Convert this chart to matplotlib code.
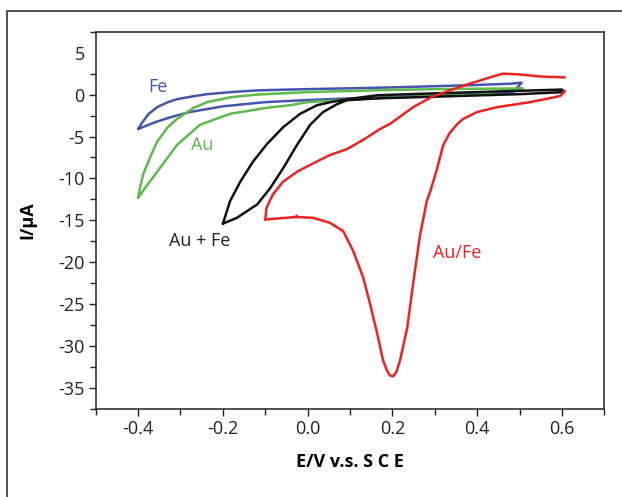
import matplotlib
matplotlib.use('Agg')
import matplotlib.pyplot as plt
from matplotlib.patches import Rectangle
from matplotlib.ticker import MultipleLocator

# Fe (blue) loop, -0.4 .. 0.5 V
fe_e = [-0.400, -0.390, -0.375, -0.355, -0.330, -0.308, -0.270, -0.237, -0.180, -0.120, -0.020,
        0.100, 0.200, 0.300, 0.400, 0.480, 0.505, 0.485, 0.400, 0.300, 0.200, 0.100, 0.000,
        -0.100, -0.200, -0.280, -0.330, -0.360, -0.385, -0.400]
fe_i = [-4.1, -3.3, -2.3, -1.5, -0.9, -0.55, -0.2, 0.05, 0.3, 0.5, 0.63,
        0.75, 0.86, 1.0, 1.15, 1.3, 1.42, 0.3, 0.05, -0.1, -0.3, -0.45, -0.65,
        -0.9, -1.4, -2.1, -2.8, -3.3, -3.8, -4.1]

# Au (green) loop
au_e = [-0.400, -0.395, -0.388, -0.370, -0.355, -0.330, -0.308, -0.270, -0.237, -0.180, -0.120,
        0.000, 0.194, 0.300, 0.400, 0.490, 0.508, 0.400, 0.300, 0.200, 0.100, 0.000, -0.042,
        -0.100, -0.183, -0.254, -0.308, -0.355, -0.380, -0.400]
au_i = [-12.3, -11.0, -9.5, -7.3, -5.6, -3.9, -2.9, -1.6, -0.9, -0.3, 0.0,
        0.3, 0.55, 0.65, 0.7, 0.72, 0.75, 0.0, -0.15, -0.35, -0.6, -0.9, -1.27,
        -1.6, -2.3, -3.6, -6.0, -9.2, -10.9, -12.3]

# Au + Fe (black) loop
aufe_e = [-0.200, -0.183, -0.159, -0.129, -0.096, -0.058, -0.018, 0.022, 0.053, 0.093, 0.164,
          0.300, 0.400, 0.500, 0.600, 0.605, 0.500, 0.400, 0.300, 0.164, 0.093, 0.069, 0.036,
          0.006, -0.025, -0.058, -0.089, -0.119, -0.167, -0.200]
aufe_i = [-15.4, -12.7, -10.4, -8.0, -5.9, -3.9, -2.3, -1.27, -0.91, -0.56, -0.08,
          0.15, 0.3, 0.45, 0.6, 0.3, 0.05, -0.1, -0.25, -0.45, -0.67, -1.15, -2.1,
          -3.6, -6.0, -8.8, -11.2, -13.1, -14.7, -15.4]

# Au/Fe (red): forward sweep and reverse sweep
red_fwd_e = [-0.100, -0.097, -0.082, -0.058, -0.025, 0.013, 0.053, 0.093, 0.131, 0.171, 0.194,
             0.249, 0.296, 0.329, 0.376, 0.430, 0.461, 0.501, 0.548, 0.607]
red_fwd_i = [-14.9, -13.5, -11.9, -10.4, -9.2, -8.2, -7.2, -6.5, -5.4, -4.1, -3.5,
             -1.5, -0.2, 0.39, 1.2, 2.05, 2.5, 2.4, 2.16, 2.05]
red_rev_e = [0.607, 0.596, 0.525, 0.447, 0.399, 0.367, 0.353, 0.335, 0.320, 0.305, 0.289,
             0.281, 0.273, 0.265, 0.249, 0.235, 0.218, 0.210, 0.202, 0.194, 0.186, 0.178,
             0.164, 0.147, 0.131, 0.107, 0.084, 0.053, 0.013, -0.024, -0.026, -0.028, -0.100]
red_rev_i = [0.43, -0.17, -0.9, -1.5, -2.1, -2.9, -3.5, -4.6, -6.0, -8.9, -11.6,
             -12.7, -14.8, -16.8, -22.5, -27.8, -31.7, -33.0, -33.6, -33.5, -32.8, -31.7,
             -28.5, -24.9, -21.8, -18.6, -16.3, -15.3, -14.7, -14.6, -14.45, -14.6, -14.9]

c_fe = '#4455b0'
c_au = '#5cbb4a'
c_aufe = '#111111'
c_red = '#ee2222'

plt.rcParams['font.family'] = ['Open Sans', 'DejaVu Sans']

fig = plt.figure(figsize=(6.22, 4.97), dpi=100)
# outer frame (cut off at right and bottom)
fig.patches.append(Rectangle((7 / 622, -0.2), 1.2, 1 - 11 / 497 + 0.2, transform=fig.transFigure,
                             fill=False, edgecolor='#444444', linewidth=1.3))

ax = fig.add_axes([0.1539, 0.1771, 0.8177, 0.7591])

lw = 1.8
for e, i, c in [(fe_e, fe_i, c_fe), (au_e, au_i, c_au), (aufe_e, aufe_i, c_aufe),
                (red_fwd_e, red_fwd_i, c_red), (red_rev_e, red_rev_i, c_red)]:
    ax.plot(e, i, color=c, lw=lw, solid_joinstyle='round', solid_capstyle='round')

fs = 13
ax.text(-0.353, 0.86, 'Fe', color=c_fe, fontsize=fs, ha='center', va='center')
ax.text(-0.249, -6.0, 'Au', color=c_au, fontsize=fs, ha='center', va='center')
ax.text(-0.254, -17.5, 'Au + Fe', color='#222222', fontsize=fs, ha='center', va='center')
ax.text(0.352, -18.9, 'Au/Fe', color=c_red, fontsize=fs, ha='center', va='center')

ax.set_xlim(-0.5, 0.7)
ax.set_ylim(-37.5, 7.5)
ax.set_xticks([-0.4, -0.2, 0.0, 0.2, 0.4, 0.6])
ax.set_xticklabels(['-0.4', '-0.2', '0.0', '0.2', '0.4', '0.6'])
ax.xaxis.set_minor_locator(MultipleLocator(0.1))
ax.set_yticks([-35, -30, -25, -20, -15, -10, -5, 0, 5])
ax.set_yticklabels(['-35', '-30', '-25', '-20', '-15', '-10', '-5', '0', '5'])
ax.yaxis.set_minor_locator(MultipleLocator(2.5))
ax.yaxis.get_major_ticks()[-1].tick1line.set_visible(False)

ax.tick_params(which='major', direction='out', length=5, width=1, labelsize=fs, colors='#222222', pad=3)
ax.tick_params(which='minor', direction='out', length=4, width=1, colors='#222222')
for s in ax.spines.values():
    s.set_color('#222222')
    s.set_linewidth(1.1)

ax.set_xlabel('E/V v.s. S C E', fontsize=fs, fontweight='bold', labelpad=11)
ax.set_ylabel('I/\u03bcA', fontsize=fs, fontweight='bold', labelpad=16)

fig.savefig('out.png', dpi=100)
